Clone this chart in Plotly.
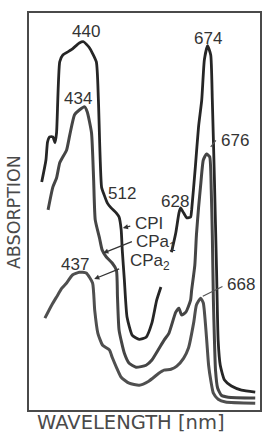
import plotly.graph_objects as go

# Wavelength (nm) and absorption (relative units)
cpi_nm = [361, 369, 372, 376, 382, 386, 389, 395, 401, 417, 432, 440, 451, 464, 468,
          474, 479, 485, 492, 502, 507, 511, 513, 517, 522, 532, 545, 558, 569, 578, 586,
          None,
          606, 614, 620, 623, 629, 635, 642, 644, 651, 657, 663, 668, 674, 680, 683,
          687, 691, 694, 698, 706, 719, 738, 764]
cpi_abs = [0.574, 0.629, 0.674, 0.687, 0.687, 0.672, 0.697, 0.875, 0.892, 0.905, 0.922, 0.925,
           0.910, 0.875, 0.779, 0.561, 0.541, 0.521, 0.509, 0.496, 0.486, 0.454, 0.404, 0.328,
           0.236, 0.190, 0.180, 0.185, 0.221, 0.278, 0.311,
           None,
           0.398, 0.446, 0.496, 0.509, 0.496, 0.484, 0.486, 0.504, 0.612, 0.712, 0.779, 0.880,
           0.915, 0.892, 0.779, 0.579, 0.353, 0.178, 0.115, 0.078, 0.063, 0.053, 0.048]

cpa1_nm = [373, 382, 389, 395, 401, 408, 414, 423, 432, 442, 447, 455, 459, 462, 470, 475,
           483, 494, 502, 504, 507, 517, 526, 539, 558, 569, 592, 601, 614, 620, 625, 633,
           642, 644, 650, 653, 657, 661, 666, 672, 678, 681, 683, 685, 687, 689, 693, 700,
           713, 764]
cpa1_abs = [0.504, 0.561, 0.584, 0.622, 0.637, 0.654, 0.692, 0.742, 0.754, 0.762, 0.749,
            0.697, 0.579, 0.479, 0.434, 0.404, 0.386, 0.371, 0.353, 0.286, 0.203, 0.145,
            0.120, 0.110, 0.115, 0.128, 0.178, 0.195, 0.248, 0.258, 0.241, 0.248, 0.278,
            0.303, 0.366, 0.441, 0.509, 0.566, 0.629, 0.644, 0.637, 0.554, 0.441, 0.278,
            0.178, 0.103, 0.058, 0.040, 0.035, 0.033]

cpa2_nm = [367, 380, 389, 399, 408, 419, 432, 445, 457, 461, 467, 476, 489, 494, 502, 511,
           526, 545, 563, 582, 592, 605, 616, 629, 638, 648, 653, 661, 666, 672, 676, 680,
           685, 694, 708, 764]
cpa2_abs = [0.233, 0.266, 0.286, 0.308, 0.321, 0.341, 0.348, 0.346, 0.321, 0.253, 0.195,
            0.165, 0.153, 0.135, 0.110, 0.085, 0.070, 0.065, 0.075, 0.095, 0.103, 0.105,
            0.113, 0.133, 0.158, 0.223, 0.266, 0.283, 0.271, 0.185, 0.115, 0.078, 0.045,
            0.030, 0.023, 0.020]

# Peak labels: text, position (nm, abs)
peak_text = ["440", "434", "512", "628", "674", "676", "437", "668"]
peak_nm = [444, 429, 513, 612, 674, 726, 423, 737]
peak_abs = [0.950, 0.784, 0.544, 0.526, 0.932, 0.679, 0.368, 0.318]

# Curve names with label anchor (left) and leader arrow tail/tip
names = ["CPI", "CPa<sub>1</sub>", "CPa<sub>2</sub>"]
name_nm = [533, 536, 524]
name_abs = [0.469, 0.422, 0.373]
lead_tail_nm = [531, 534, 510]
lead_tail_abs = [0.464, 0.426, 0.358]
lead_tip_nm = [514, 477, 460]
lead_tip_abs = [0.459, 0.396, 0.331]

# Peak leader lines (no heads): 676 and 668
pl_tip_nm = [680, 665]
pl_tip_abs = [0.662, 0.288]
pl_tail_nm = [692, 705]
pl_tail_abs = [0.682, 0.314]

fig = go.Figure()
for xs, ys, col, w in [(cpi_nm, cpi_abs, "#262626", 2.8),
                       (cpa1_nm, cpa1_abs, "#454545", 3.0),
                       (cpa2_nm, cpa2_abs, "#4f4f4f", 3.0)]:
    fig.add_trace(go.Scatter(x=xs, y=ys, mode="lines", connectgaps=False,
                             line=dict(color=col, width=w, shape="spline", smoothing=0.5),
                             hoverinfo="skip", showlegend=False))

font_num = dict(family="Liberation Sans", size=17, color="#333333")
ann = []
for t, x, y in zip(peak_text, peak_nm, peak_abs):
    ann.append(dict(x=x, y=y, xref="x", yref="y", text=t, showarrow=False,
                    font=font_num, xanchor="center", yanchor="middle"))
for t, x, y in zip(names, name_nm, name_abs):
    ann.append(dict(x=x, y=y, xref="x", yref="y", text=t, showarrow=False,
                    font=font_num, xanchor="left", yanchor="middle"))
for tx, ty, hx, hy in zip(lead_tail_nm, lead_tail_abs, lead_tip_nm, lead_tip_abs):
    ann.append(dict(x=hx, y=hy, ax=tx, ay=ty, xref="x", yref="y", axref="x", ayref="y",
                    text="", showarrow=True, arrowhead=2, arrowsize=0.8, arrowwidth=1.3,
                    arrowcolor="#333333"))
for tx, ty, hx, hy in zip(pl_tail_nm, pl_tail_abs, pl_tip_nm, pl_tip_abs):
    ann.append(dict(x=hx, y=hy, ax=tx, ay=ty, xref="x", yref="y", axref="x", ayref="y",
                    text="", showarrow=True, arrowhead=0, arrowwidth=1.2,
                    arrowcolor="#555555"))

ann.append(dict(x=0.442, y=-0.032, xref="paper", yref="paper", text="WAVELENGTH [nm]",
                showarrow=False, font=dict(family="DejaVu Sans", size=19.5, color="#4a4a4a"),
                xanchor="center", yanchor="middle"))
ann.append(dict(x=-0.064, y=0.499, xref="paper", yref="paper", text="ABSORPTION",
                showarrow=False, font=dict(family="DejaVu Sans", size=17.5, color="#4a4a4a"),
                textangle=-90, xanchor="center", yanchor="middle"))

axis_common = dict(showline=True, mirror=True, linecolor="#4a4a4a", linewidth=2,
                   showgrid=False, zeroline=False, showticklabels=False, ticks="")
fig.update_layout(
    width=264, height=434,
    margin=dict(l=29, r=2, t=13, b=24),
    paper_bgcolor="white", plot_bgcolor="white",
    xaxis=dict(range=[337, 773], **axis_common),
    yaxis=dict(range=[0.003, 0.997], **axis_common),
    annotations=ann,
    showlegend=False,
)
fig.write_html("out.html", config={"displayModeBar": False},
               post_script="document.body.style.margin='0';"
                           "document.body.style.overflow='hidden';")
